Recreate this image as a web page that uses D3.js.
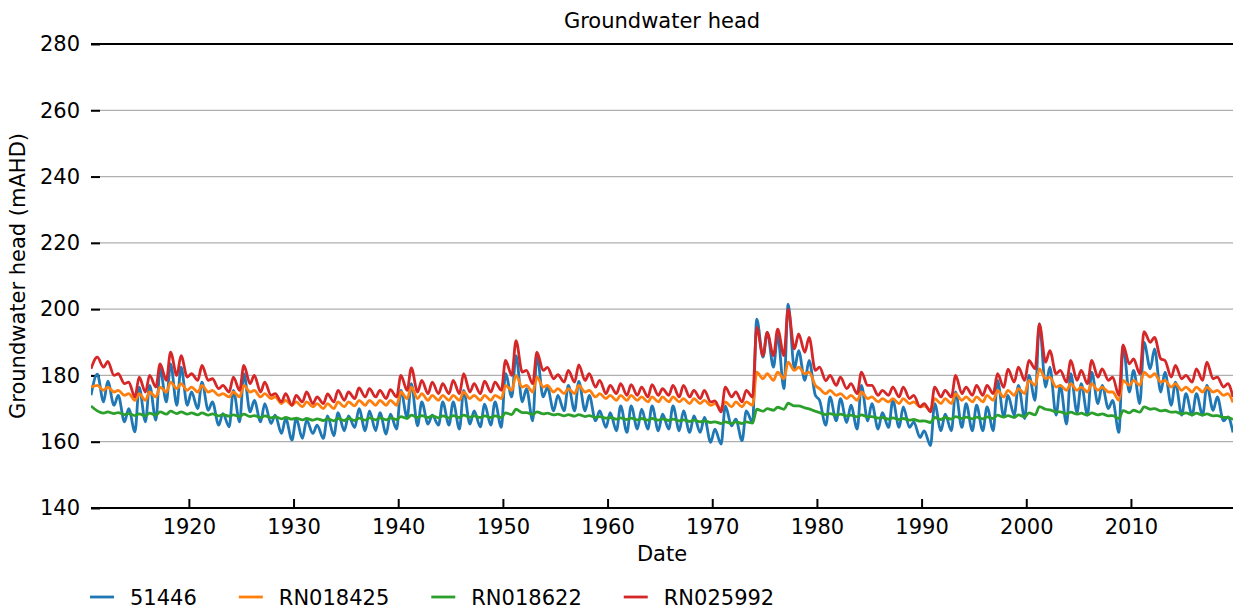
<!DOCTYPE html>
<html>
<head>
<meta charset="utf-8">
<script src="https://cdn.jsdelivr.net/npm/d3@7"></script>
<style>
  html, body { margin: 0; padding: 0; background: #fff; }
  svg { display: block; font-family: "DejaVu Sans", sans-serif; }
</style>
</head>
<body>
<svg id="chart" width="1236" height="610"></svg>
<script>
// Groundwater head per bore: one seasonal high and one seasonal low per year (mAHD)
const firstYear = 1911;
const startDate = 1910.65;
const endDate = 2019.75;

const seriesNames = ["51446", "RN018425", "RN018622", "RN025992"];
const seriesColors = ["#1f77b4", "#ff7f0e", "#2ca02c", "#d62728"];
const startValues = [174, 176.5, 170.8, 182];

const bluePeak = [
  180.4, 178.3, 174, 170, 176.5, 177, 182, 183.5, 182.5, 175,
  178, 172, 168.5, 175.5, 180.5, 172.5, 171.5, 168, 167, 167,
  166.5, 165, 167.8, 168.8, 167.8, 170, 169.3, 168.8, 168.3, 175.5,
  177.5, 172, 168, 172, 172, 175.5, 169.3, 171.3, 172, 180.5,
  186, 176, 186, 176.4, 174, 177, 178.2, 174, 169.3, 168.8,
  170.8, 170.8, 169.8, 170.8, 168.3, 170.8, 169.3, 167.8, 167.3, 163.8,
  170.8, 166.8, 169.3, 197, 193, 192, 201.5, 187.5, 184.5, 172.5,
  173.5, 173, 171, 177, 171.5, 168.8, 172.5, 170.5, 166, 163.3,
  171.5, 168.3, 175, 171.5, 171, 170.5, 178.5, 174, 177, 180,
  195.6, 182.5, 177, 180.5, 177.5, 181, 177, 172.5, 189, 181.5,
  190, 188, 181, 178, 174.5, 174.5, 177, 173.5, 167.5
];
const blueTrough = [
  172, 171, 166, 163, 166, 166.5, 172, 171, 171, 170,
  169.5, 165, 164.5, 166, 169, 166, 165.5, 162.5, 160.5, 161,
  162.5, 161, 161.8, 163.3, 164.3, 163.3, 163.3, 162.3, 163.8, 167.3,
  164.8, 165.3, 165, 165, 163.8, 165.3, 164.5, 165, 164.3, 173.5,
  172, 166.3, 173.5, 169.3, 169.3, 169.3, 169.3, 166.3, 164.3, 163.3,
  162.8, 163.8, 163.8, 163.3, 163.8, 163.3, 162.8, 162.8, 159.8, 159.3,
  164.8, 160.3, 165.8, 185.5, 182.5, 176, 182, 178.5, 174, 165,
  166.3, 165.8, 163.8, 166.3, 163.8, 164.3, 164.3, 164.3, 161.3, 158.8,
  163.3, 163.3, 164.3, 163.3, 163.3, 163.3, 167.5, 168, 167, 172.5,
  176.5, 168, 165.3, 168.8, 168, 171.5, 170, 162.8, 175, 171.5,
  182, 175, 171, 168, 168, 168, 169.5, 166.3, 162.8
];

const orangePeak = [
  177, 176.5, 175.5, 174.5, 174.5, 175, 176.5, 178, 177.5, 176.5,
  177, 175.5, 174.5, 175, 177, 175.5, 174.5, 173.5, 172.5, 172,
  172, 171.5, 171.5, 172, 172, 172.5, 172.5, 172.5, 172.5, 175,
  176.5, 174.5, 174, 174, 174, 175, 174, 174, 174, 177,
  180, 177, 179.5, 177, 176, 176, 177, 175.5, 174.5, 174,
  174, 174, 173.5, 173.5, 173.5, 173.5, 173, 173, 172.5, 171.5,
  172, 172, 172, 181, 180.5, 181, 184, 182.5, 181, 176,
  175.5, 174.5, 174, 175, 173.5, 173, 173, 173, 172, 170.8,
  173, 173, 174.5, 173.5, 173.5, 174, 175.5, 175.5, 176, 178.5,
  182, 179.5, 177, 177.5, 176.5, 177.5, 176.5, 175, 178.5, 178.5,
  181, 180.5, 178.5, 177.5, 176.5, 176.5, 176.5, 175.5, 174.5
];
const orangeTrough = [
  175.5, 175, 174, 172.5, 172.5, 173.5, 175, 176, 175.5, 175,
  175, 174, 173.5, 173.5, 175, 173.5, 173, 171.5, 171, 170.5,
  170.5, 170, 170, 170.5, 170.8, 171, 171, 171, 171, 173,
  173, 172.5, 172.5, 172.5, 172.5, 173, 172.5, 172.5, 173, 175.5,
  176.5, 175, 176.5, 175, 174.5, 174.5, 175, 173.5, 173, 172.5,
  172.5, 172.5, 172, 172, 172, 172, 171.5, 171.5, 171, 170,
  170.5, 170.5, 171, 179, 178.5, 179, 181.5, 180.5, 177, 174.5,
  174, 173, 172.5, 173, 172, 172, 171.5, 171.5, 170.5, 169.5,
  171.5, 171.5, 172.5, 172, 172, 172.5, 173.5, 174, 174.5, 177,
  179, 176.5, 175.5, 175.5, 175, 175.5, 175, 172.5, 177, 177,
  179.5, 178, 176.5, 175.5, 175, 175, 175, 174, 171.8
];

const greenPeak = [
  169.3, 169, 168.8, 168.5, 168.4, 168.6, 169, 169.2, 169, 168.7,
  168.7, 168.4, 168.2, 168.1, 168.3, 167.9, 167.8, 167.5, 167.3, 167.1,
  167, 166.9, 166.9, 167, 167, 167.1, 167.2, 167.2, 167.2, 167.6,
  168, 167.9, 167.8, 167.8, 167.9, 168, 167.8, 167.8, 167.8, 168.7,
  169.8, 168.8, 169, 168.6, 168.3, 168.2, 168.2, 167.9, 167.6, 167.3,
  167.2, 167.1, 167, 167, 166.9, 166.8, 166.6, 166.5, 166.3, 166,
  166, 166, 166, 169.8, 170, 170.4, 171.6, 170.8, 169.9, 168.8,
  168.5, 168.3, 168, 168.1, 167.6, 167.3, 167.2, 167, 166.7, 166.3,
  167.3, 167.3, 167.6, 167.4, 167.4, 167.5, 168, 167.9, 168.1, 168.7,
  170.6, 169.6, 169, 168.9, 168.6, 168.7, 168.4, 167.9, 169.4, 169.5,
  170.5, 170, 169.5, 169, 168.7, 168.6, 168.4, 167.9, 167.3
];
const greenTrough = [
  168.6, 168.5, 168.2, 167.9, 167.8, 168, 168.3, 168.5, 168.3, 168.1,
  168, 167.8, 167.7, 167.6, 167.6, 167.3, 167.2, 166.9, 166.8, 166.6,
  166.5, 166.4, 166.3, 166.4, 166.4, 166.5, 166.6, 166.6, 166.7, 167,
  167.3, 167.3, 167.2, 167.2, 167.3, 167.4, 167.3, 167.3, 167.3, 168.2,
  168.8, 168.2, 168.4, 168.1, 167.8, 167.7, 167.6, 167.3, 167.1, 166.8,
  166.7, 166.6, 166.5, 166.5, 166.4, 166.3, 166.1, 166, 165.8, 165.5,
  165.5, 165.5, 165.6, 169.2, 169.5, 169.8, 170.8, 170.2, 169.2, 168.2,
  168, 167.8, 167.5, 167.5, 167.1, 166.8, 166.7, 166.5, 166.2, 165.8,
  166.7, 166.8, 167, 166.9, 166.9, 167, 167.4, 167.3, 167.5, 168.1,
  169.8, 169, 168.4, 168.3, 168, 168.1, 167.8, 167, 168.7, 168.9,
  169.8, 169.3, 168.9, 168.4, 168.1, 168, 167.8, 167.3, 166.7
];

const redPeak = [
  185.5, 184.2, 180.5, 178, 179.5, 180, 183.5, 187, 186, 180.5,
  183, 179, 177, 179.5, 183, 180, 178, 174.5, 174.5, 174,
  175, 173.5, 174.4, 175.5, 175, 176.2, 176, 175.5, 175.7, 180,
  182.3, 178.5, 178, 177.5, 178.5, 180.5, 177.5, 178.3, 178, 184.5,
  190.5, 181.5, 187, 182.4, 180.2, 181.5, 183.2, 180.5, 178.5, 177,
  177.5, 177.2, 176.5, 177.2, 176, 177, 177, 175.5, 175.5, 172.3,
  176.5, 175, 175.5, 194.5, 193, 194, 200, 192.5, 191.5, 182.5,
  180, 179.5, 177.5, 181, 177, 175.5, 176.5, 176.5, 174, 171.5,
  176.5, 175.5, 180, 176.5, 177, 177, 180.5, 181.9, 182.5, 184.5,
  195.5, 187.5, 181.5, 184.5, 181.5, 184.5, 182, 179.5, 189.2, 185,
  193.2, 191.5, 184.5, 183, 180, 182, 184, 179.5, 177.5
];
const redTrough = [
  182.5, 180, 177.5, 173.5, 175, 176.5, 178.5, 180, 179.5, 178.5,
  178.5, 176, 175, 175.5, 177.5, 175, 174, 172, 171, 172,
  171.5, 171.5, 172, 172.5, 173, 173.5, 173.5, 173, 173.5, 175.5,
  175, 174.5, 174.5, 174.5, 174.5, 175, 174.5, 175, 175.5, 180,
  181, 177.5, 181.5, 179, 178, 178, 178.5, 176.5, 174.5, 174.5,
  174, 174, 173.5, 174, 174, 173.5, 173.5, 173, 172, 169,
  173.5, 172, 173.5, 186, 186, 186, 188, 187, 181.5, 178.4,
  177, 176, 174.5, 177, 174, 174, 173.5, 173, 170.5, 169,
  173.5, 173.5, 174.5, 174, 174, 174.5, 176.4, 178, 178.5, 182,
  184, 180.5, 178, 178.5, 177.5, 179.5, 178.5, 174, 183.5, 180.5,
  190, 185, 179.5, 179, 178, 178.5, 179, 176.5, 173.5
];

const yTicks = [140, 160, 180, 200, 220, 240, 260, 280];
const xTicks = [1920, 1930, 1940, 1950, 1960, 1970, 1980, 1990, 2000, 2010];

const peaks = [bluePeak, orangePeak, greenPeak, redPeak];
const troughs = [blueTrough, orangeTrough, greenTrough, redTrough];

// Build a dated series: start value, then high (early in the year) and low (late in the year)
function buildSeries(k) {
  const pts = [{t: startDate, v: startValues[k]}];
  peaks[k].forEach((hi, i) => {
    const yr = firstYear + i;
    pts.push({t: yr + 0.25, v: hi});
    pts.push({t: Math.min(yr + 0.85, endDate), v: troughs[k][i]});
  });
  return pts;
}
const series = seriesNames.map((name, k) => ({name, color: seriesColors[k], values: buildSeries(k)}));

const svg = d3.select("#chart");
const m = {left: 91, right: 1233, top: 44, bottom: 508};
const fontSize = 21;

const x = d3.scaleLinear().domain([startDate, endDate]).range([m.left, m.right]);
const y = d3.scaleLinear().domain([140, 280]).range([m.bottom, m.top]);

// Horizontal grid
svg.append("g")
  .selectAll("line")
  .data(yTicks.filter(d => d > 140 && d < 280))
  .join("line")
  .attr("x1", m.left).attr("x2", m.right)
  .attr("y1", d => y(d)).attr("y2", d => y(d))
  .attr("stroke", "#b0b0b0").attr("stroke-width", 1.3);

// Top spine
svg.append("line").attr("x1", m.left).attr("x2", m.right)
  .attr("y1", y(280)).attr("y2", y(280)).attr("stroke", "#000").attr("stroke-width", 2);

// Y axis: inward ticks, no spine
const yAxis = svg.append("g").attr("transform", `translate(${m.left},0)`)
  .call(d3.axisLeft(y).tickValues(yTicks).tickSize(-9).tickPadding(11).tickFormat(d3.format("d")));
yAxis.select(".domain").remove();
yAxis.selectAll(".tick line").attr("stroke", "#000").attr("stroke-width", 2);
yAxis.selectAll("text").attr("font-size", fontSize).attr("fill", "#000")
  .attr("font-family", "DejaVu Sans");

// Clip region for data lines
svg.append("clipPath").attr("id", "plot-clip").append("rect")
  .attr("x", m.left).attr("y", m.top).attr("width", m.right - m.left).attr("height", m.bottom - m.top);

const line = d3.line().x(d => x(d.t)).y(d => y(d.v)).curve(d3.curveMonotoneX);
svg.append("g").attr("clip-path", "url(#plot-clip)")
  .selectAll("path")
  .data(series)
  .join("path")
  .attr("d", d => line(d.values))
  .attr("fill", "none")
  .attr("stroke", d => d.color)
  .attr("stroke-width", 2.8)
  .attr("stroke-linejoin", "round");

// X axis: bottom spine with inward ticks
const xAxis = svg.append("g").attr("transform", `translate(0,${m.bottom})`)
  .call(d3.axisBottom(x).tickValues(xTicks).tickSize(-9).tickPadding(11).tickFormat(d3.format("d")));
xAxis.select(".domain").attr("stroke", "#000").attr("stroke-width", 2)
  .attr("d", `M${m.left},0H${m.right}`);
xAxis.selectAll(".tick line").attr("stroke", "#000").attr("stroke-width", 2);
xAxis.selectAll("text").attr("font-size", fontSize).attr("fill", "#000")
  .attr("font-family", "DejaVu Sans");

// Titles
svg.append("text").attr("x", 662).attr("y", 28).attr("text-anchor", "middle")
  .attr("font-size", fontSize).text("Groundwater head");
svg.append("text").attr("x", 662).attr("y", 561).attr("text-anchor", "middle")
  .attr("font-size", fontSize).text("Date");
svg.append("text").attr("transform", "translate(25,276) rotate(-90)").attr("text-anchor", "middle")
  .attr("font-size", fontSize).text("Groundwater head (mAHD)");

// Legend along the bottom
const legend = svg.append("g").attr("transform", "translate(90,597)");
let lx = 0;
series.forEach(s => {
  const g = legend.append("g").attr("transform", `translate(${lx},0)`);
  g.append("line").attr("x1", 0).attr("x2", 24).attr("y1", 0).attr("y2", 0)
    .attr("stroke", s.color).attr("stroke-width", 2.8);
  const t = g.append("text").attr("x", 40).attr("y", 7.5).attr("font-size", fontSize).text(s.name);
  lx += 40 + t.node().getComputedTextLength() + 42;
});
</script>
</body>
</html>
